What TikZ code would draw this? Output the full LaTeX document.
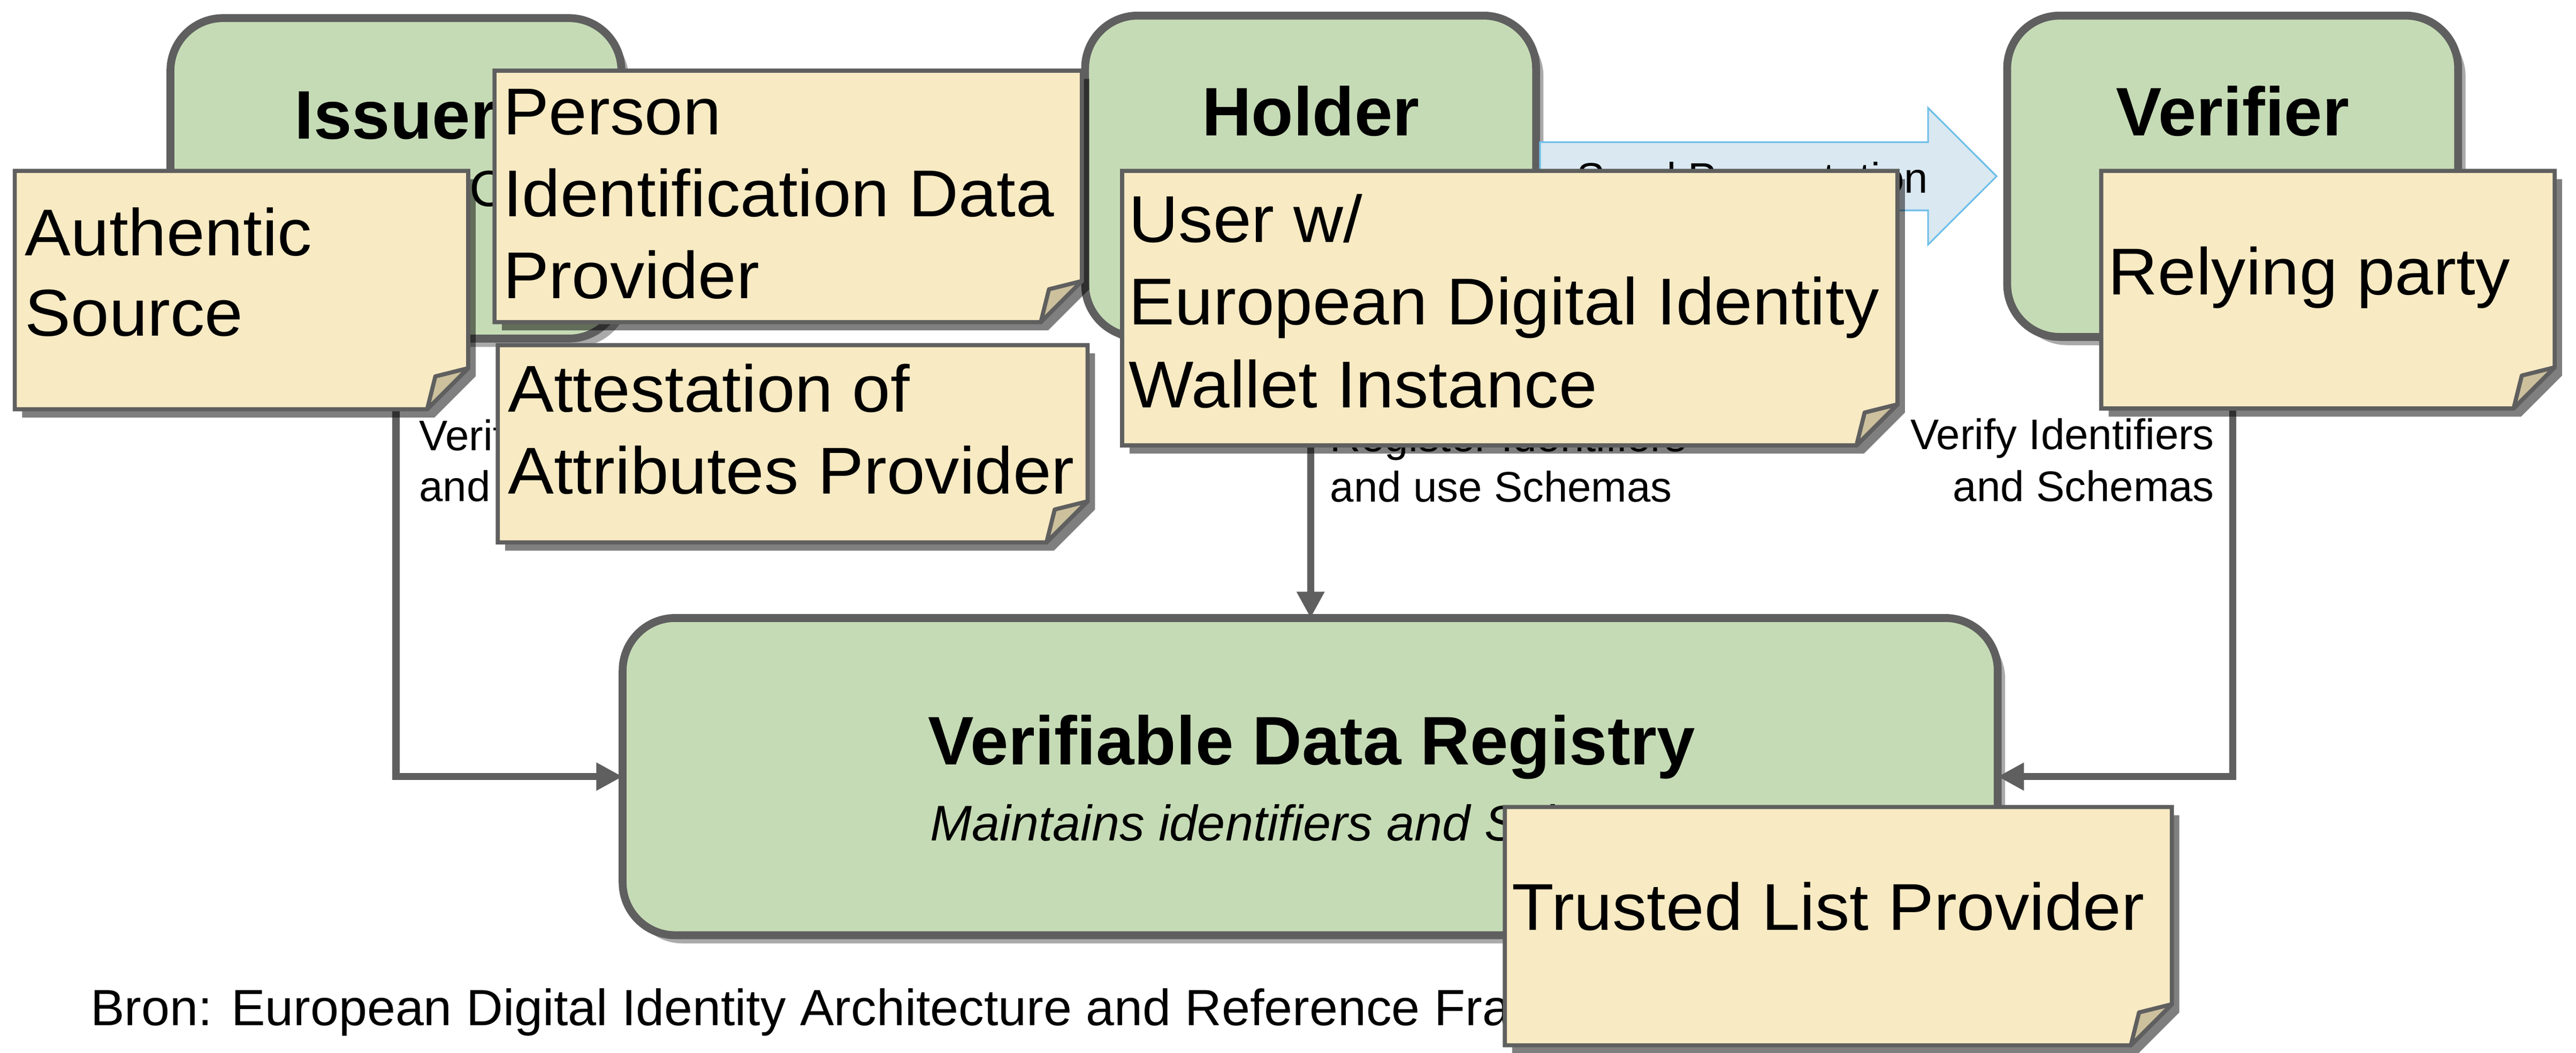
\documentclass[tikz,border=0pt]{standalone}
\usepackage{fontspec}
\setmainfont{Liberation Sans}
\newfontfamily\notefont[FakeStretch=1.04]{Liberation Sans}
\usetikzlibrary{arrows.meta,shadows,calc}
\definecolor{rolegreen}{RGB}{197,219,181}
\definecolor{edgegray}{RGB}{95,95,95}
\definecolor{roleshadow}{RGB}{170,170,170}
\definecolor{notefill}{RGB}{248,234,195}
\definecolor{notefoldc}{RGB}{204,192,157}
\definecolor{arrowfill}{RGB}{217,232,241}
\definecolor{arrowedge}{RGB}{110,190,232}
\newcommand\stickynote[5]{%
  \fill[notesh] ({#2+4.5},{#3+5}) -- ({#4+4.5},{#3+5}) -- ({#4+4.5},{#5-20}) -- ({#4-20.5},{#5+5}) -- ({#2+4.5},{#5+5}) -- cycle;
  \filldraw[notebody] (#2,#3) -- (#4,#3) -- ({#4},{#5-25}) -- ({#4-25},{#5}) -- (#2,#5) -- cycle;
  \filldraw[notefold] ({#4},{#5-25}) -- ({#4-20},{#5-20}) -- ({#4-25},{#5}) -- cycle;
  \coordinate (#1) at ({(#2+#4)/2},{(#3+#5)/2});
}
\begin{document}
\begin{tikzpicture}[x=1pt,y=-1pt,
  role/.style={draw=edgegray, line width=4.8pt, fill=rolegreen, rounded corners=32pt,
    inner sep=0pt, outer sep=0pt,
    general shadow={fill=roleshadow, shadow xshift=4.5pt, shadow yshift=-5pt}},
  roletitle/.style={inner sep=0pt, anchor=base, font=\bfseries\fontsize{41.8}{49}\selectfont},
  notetext/.style={inner sep=0pt, anchor=base west, font=\notefont\fontsize{40.3}{48}\selectfont},
  lbl/.style={inner sep=0pt, font=\fontsize{26}{31}\selectfont},
  conn/.style={draw=edgegray, line width=4.3pt, -{Triangle[length=16pt,width=16pt]}},
  sendarrow/.style={draw=arrowedge, fill=arrowfill, line width=1pt},
  notesh/.style={fill=black, fill opacity=0.5},
  notebody/.style={draw=edgegray, line width=2.5pt, fill=notefill},
  notefold/.style={draw=edgegray, line width=2.5pt, fill=notefoldc, line join=round}]
\useasboundingbox (0,0) rectangle (1568,640.4);
\fill[white] (0,0) rectangle (1568,640.4);

% role boxes
\node[role, minimum width=274.5pt, minimum height=195pt] (issuer) at (241,108.5) {};
\node[role, minimum width=274.5pt, minimum height=195.5pt] (holder) at (797.75,107.25) {};
\node[role, minimum width=274.5pt, minimum height=195.5pt] (verifier) at (1359,107.25) {};
\node[role, minimum width=837pt, minimum height=193pt] (registry) at (797.5,472.5) {};

% titles
\node[roletitle] (issuertitle) at (241,84.5) {Issuer};
\node[inner sep=0pt, anchor=base west, font=\fontsize{31}{37}\selectfont] (issuersub) at (203,125.5) {Issue Credentials};
\node[roletitle] (holdertitle) at (797.75,82.5) {Holder};
\node[roletitle] (verifiertitle) at (1359,82.5) {Verifier};
\node[roletitle] (registrytitle) at (798.5,465.2) {Verifiable Data Registry};
\node[inner sep=0pt, anchor=base, font=\itshape\fontsize{30.5}{36}\selectfont] (registrysub) at (798.5,511.4) {Maintains identifiers and Schemas};

% connectors
\draw[conn] (issuer.south) |- (registry.west);
\draw[conn] (holder.south) -- (holder.south |- registry.north);
\draw[conn] (verifier.south) |- (registry.east);

\node[lbl, anchor=base west] (il1) at (255,274) {Verify Identifiers};
\node[lbl, anchor=base west] (il2) at (255,305) {and use Schemas};
\node[lbl, anchor=base west] (hl1) at (809.5,274.6) {Register Identifiers};
\node[lbl, anchor=base west] (hl2) at (809.5,305.5) {and use Schemas};
\node[lbl, anchor=base east] (vl1) at (1348,273.5) {Verify Identifiers};
\node[lbl, anchor=base east] (vl2) at (1348,305) {and Schemas};

% send presentation arrow
\draw[sendarrow] let \p1=(holder.east), \p2=(verifier.west) in
  (\x1+2.4pt,\y1+20.75pt) -- (\x2-48.15pt,\y1+20.75pt) -- (\x2-48.15pt,\y1+41.6pt)
  -- (\x2-6.45pt,\y1) -- (\x2-48.15pt,\y1-41.6pt) -- (\x2-48.15pt,\y1-20.75pt)
  -- (\x1+2.4pt,\y1-20.75pt) -- cycle;
\node[lbl, anchor=base west] (sendlbl) at (959.5,117.3) {Send Presentation};

% footer
\node[inner sep=0pt, anchor=base west, font=\fontsize{31}{37}\selectfont] (source) at (55,623.8)
  {Bron: European Digital Identity Architecture and Reference Framework};

% notes
\stickynote{authnote}{9}{104}{285}{249}
\node[notetext] (auth1) at (15,155.4) {Authentic};
\node[notetext] (auth2) at (15,204.5) {Source};

\stickynote{pidnote}{301}{43}{658.5}{196}
\node[notetext] (pid1) at (306,81.8) {Person};
\node[notetext] (pid2) at (306,131.8) {Identification Data};
\node[notetext] (pid3) at (306,181.7) {Provider};

\stickynote{attnote}{303}{210}{662}{330}
\node[notetext] (att1) at (309,250.6) {Attestation of};
\node[notetext] (att2) at (309,300.5) {Attributes Provider};

\stickynote{walletnote}{683}{104}{1155}{271}
\node[notetext] (wal1) at (687,147.4) {User w/};
\node[notetext] (wal2) at (687,197.7) {European Digital Identity};
\node[notetext] (wal3) at (687,247.9) {Wallet Instance};

\stickynote{rpnote}{1279}{104}{1555}{248.5}
\node[notetext] (rp1) at (1283,179.4) {Relying party};

\stickynote{tlnote}{916}{491}{1322}{636}
\node[notetext] (tl1) at (920,566) {Trusted List Provider};
\end{tikzpicture}
\end{document}
